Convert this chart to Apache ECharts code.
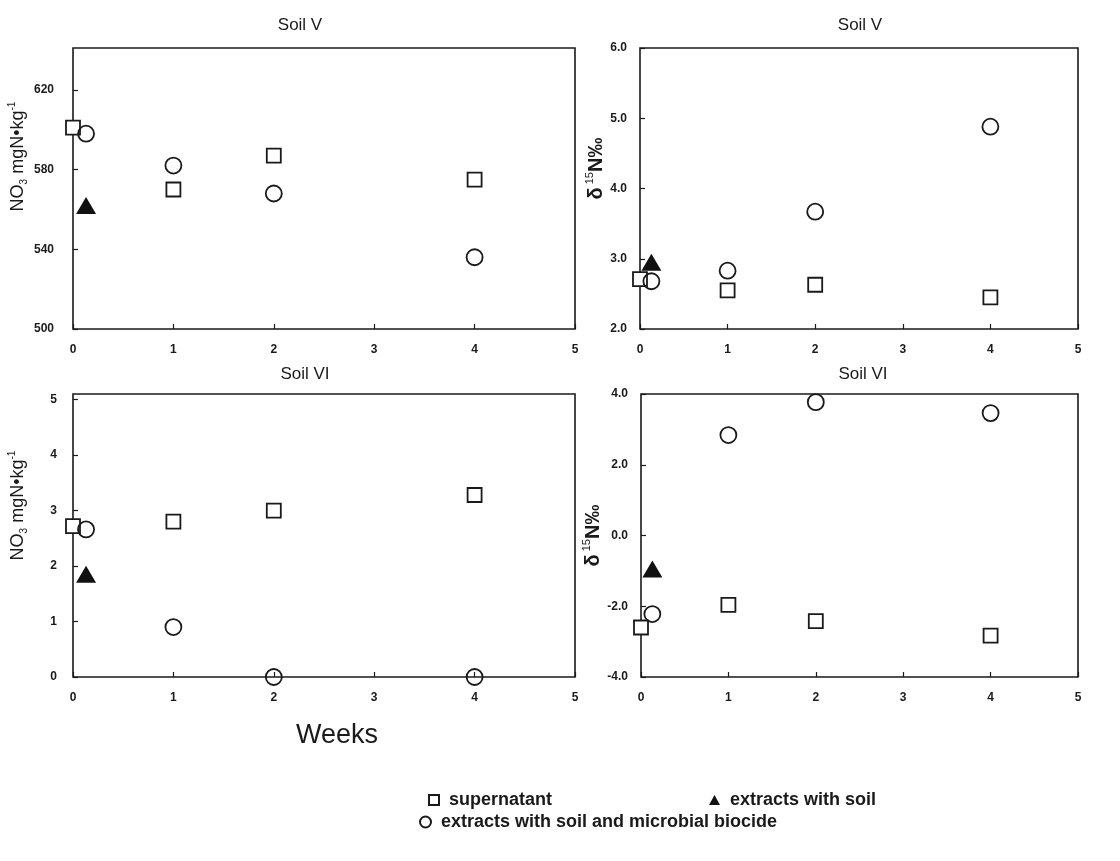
<!DOCTYPE html>
<html>
<head>
<meta charset="utf-8">
<script src="https://cdn.jsdelivr.net/npm/echarts@6/dist/echarts.min.js"></script>
<style>
    html, body { margin: 0; padding: 0; background: #fff; }
    #chart { width: 1120px; height: 861px; }
</style>
</head>
<body>
<div id="chart"></div>
<script>
// weeks (x), first circle / triangle is drawn slightly right of 0
var weeksSup = [0, 1, 2, 4];
var weeksBio = [0.13, 1, 2, 4];
var weeksSoil = [0.13];

// Soil V, NO3 mgN/kg
var no3V_sup = [601, 570, 587, 575];
var no3V_soil = [562];
var no3V_bio = [598, 582, 568, 536];
// Soil V, d15N
var d15V_sup = [2.71, 2.55, 2.63, 2.45];
var d15V_soil = [2.95];
var d15V_bio = [2.68, 2.83, 3.67, 4.88];
// Soil VI, NO3
var no3VI_sup = [2.72, 2.8, 3.0, 3.28];
var no3VI_soil = [1.85];
var no3VI_bio = [2.66, 0.9, 0, 0];
// Soil VI, d15N
var d15VI_sup = [-2.6, -1.96, -2.42, -2.83];
var d15VI_soil = [-0.95];
var d15VI_bio = [-2.22, 2.84, 3.77, 3.46];

var names = ['supernatant', 'extracts with soil', 'extracts with soil and microbial biocide'];
var font = 'Liberation Sans, Arial, sans-serif';
var ink = '#1a1a1a';

function pairs(xs, ys) {
    return ys.map(function (y, i) { return [xs[i], y]; });
}

var grids = [
    {left: 73, top: 48, width: 502, height: 281},
    {left: 640, top: 48, width: 438, height: 281},
    {left: 73, top: 394, width: 502, height: 283},
    {left: 641, top: 394, width: 437, height: 283}
];
grids.forEach(function (g) {
    g.show = true;
    g.borderColor = ink;
    g.borderWidth = 1.6;
    g.backgroundColor = 'transparent';
});

var tickLabel = {
    color: ink,
    fontFamily: font,
    fontWeight: 'bold',
    fontSize: 12
};

function xAxis(idx) {
    return {
        type: 'value',
        gridIndex: idx,
        min: 0,
        max: 5,
        interval: 1,
        splitLine: {show: false},
        axisLine: {show: false, onZero: false},
        axisTick: {show: true, inside: true, length: 5, lineStyle: {color: ink, width: 1.2}},
        axisLabel: Object.assign({margin: 15}, tickLabel)
    };
}

function yAxis(idx, min, max, interval, decimals, nameRich, margin, gap) {
    return {
        type: 'value',
        gridIndex: idx,
        min: min,
        max: max,
        interval: interval,
        splitLine: {show: false},
        axisLine: {show: false, onZero: false},
        axisTick: {show: true, inside: true, length: 5, lineStyle: {color: ink, width: 1.2}},
        axisLabel: Object.assign({
            margin: margin,
            showMaxLabel: (max - min) % interval === 0,
            formatter: function (v) { return v.toFixed(decimals); }
        }, tickLabel),
        name: nameRich.text,
        nameLocation: 'middle',
        nameGap: gap,
        nameRotate: 90,
        nameTextStyle: {
            fontFamily: font,
            color: ink,
            padding: nameRich.padding,
            rich: nameRich.rich
        }
    };
}

var no3Rich = {
    b: {fontSize: 18, fontFamily: font, color: ink, lineHeight: 22},
    sub: {fontSize: 10, fontFamily: font, color: ink, verticalAlign: 'bottom', lineHeight: 12},
    sup: {fontSize: 10, fontFamily: font, color: ink, verticalAlign: 'top', lineHeight: 12}
};
var d15Rich = {
    b: {fontSize: 20, fontWeight: 'bold', fontFamily: font, color: ink, lineHeight: 24},
    sup: {fontSize: 11, fontFamily: font, color: ink, verticalAlign: 'top', lineHeight: 12}
};
var no3Text = '{b|NO}{sub|3}{b| mgN•kg}{sup|-1}';
var d15Text = '{b|δ}{sup| 15}{b|N‰}';

var xAxes = [xAxis(0), xAxis(1), xAxis(2), xAxis(3)];
xAxes[2].name = 'Weeks';
xAxes[2].nameLocation = 'middle';
xAxes[2].nameGap = 45;
xAxes[2].nameTextStyle = {fontFamily: font, fontSize: 27, color: ink, padding: [0, 0, 0, 26]};

var yAxes = [
    yAxis(0, 500, 641, 40, 0, {text: no3Text, rich: no3Rich, padding: [0, 0, 0, 64]}, 19, 44),
    yAxis(1, 2, 6, 1, 1, {text: d15Text, rich: d15Rich, padding: [0, 0, 0, 40]}, 13, 31),
    yAxis(2, 0, 5.1, 1, 0, {text: no3Text, rich: no3Rich, padding: [0, 0, 0, 60]}, 16, 44),
    yAxis(3, -4, 4, 2, 1, {text: d15Text, rich: d15Rich, padding: 0}, 13, 31)
];

var panels = [
    [no3V_sup, no3V_soil, no3V_bio],
    [d15V_sup, d15V_soil, d15V_bio],
    [no3VI_sup, no3VI_soil, no3VI_bio],
    [d15VI_sup, d15VI_soil, d15VI_bio]
];

var series = [];
panels.forEach(function (p, i) {
    series.push({
        name: names[0], type: 'scatter', xAxisIndex: i, yAxisIndex: i, clip: false,
        symbol: 'rect', symbolSize: 14,
        itemStyle: {color: '#fff', borderColor: ink, borderWidth: 1.8, opacity: 1},
        data: pairs(weeksSup, p[0])
    });
    series.push({
        name: names[1], type: 'scatter', xAxisIndex: i, yAxisIndex: i, clip: false,
        symbol: 'triangle', symbolSize: [20, 17],
        itemStyle: {color: '#111', opacity: 1},
        data: pairs(weeksSoil, p[1])
    });
    series.push({
        name: names[2], type: 'scatter', xAxisIndex: i, yAxisIndex: i, clip: false,
        symbol: 'circle', symbolSize: 16,
        itemStyle: {color: 'rgba(255,255,255,0)', borderColor: ink, borderWidth: 1.8, opacity: 1},
        data: pairs(weeksBio, p[2])
    });
});

var legendText = {fontFamily: font, fontSize: 18, fontWeight: 'bold', color: ink, padding: [0, 0, 0, 5]};
function legend(name, left, top, w, h) {
    return {
        data: [name], left: left, top: top, orient: 'horizontal',
        itemWidth: w, itemHeight: h, itemGap: 10, padding: 0,
        textStyle: legendText, selectedMode: false
    };
}

var titleStyle = {fontFamily: font, fontSize: 17, fontWeight: 'normal', color: ink};
var option = {
    animation: false,
    backgroundColor: '#fff',
    title: [
        {text: 'Soil V', left: 300, top: 17, textAlign: 'center', textStyle: titleStyle, padding: 0},
        {text: 'Soil V', left: 860, top: 17, textAlign: 'center', textStyle: titleStyle, padding: 0},
        {text: 'Soil VI', left: 305, top: 366, textAlign: 'center', textStyle: titleStyle, padding: 0},
        {text: 'Soil VI', left: 863, top: 366, textAlign: 'center', textStyle: titleStyle, padding: 0}
    ],
    legend: [
        legend(names[0], 428, 791, 10, 10),
        legend(names[1], 709, 791, 11, 10),
        legend(names[2], 419, 813, 11, 11)
    ],
    grid: grids,
    xAxis: xAxes,
    yAxis: yAxes,
    series: series
};

var chart = echarts.init(document.getElementById('chart'));
chart.setOption(option);
</script>
</body>
</html>
